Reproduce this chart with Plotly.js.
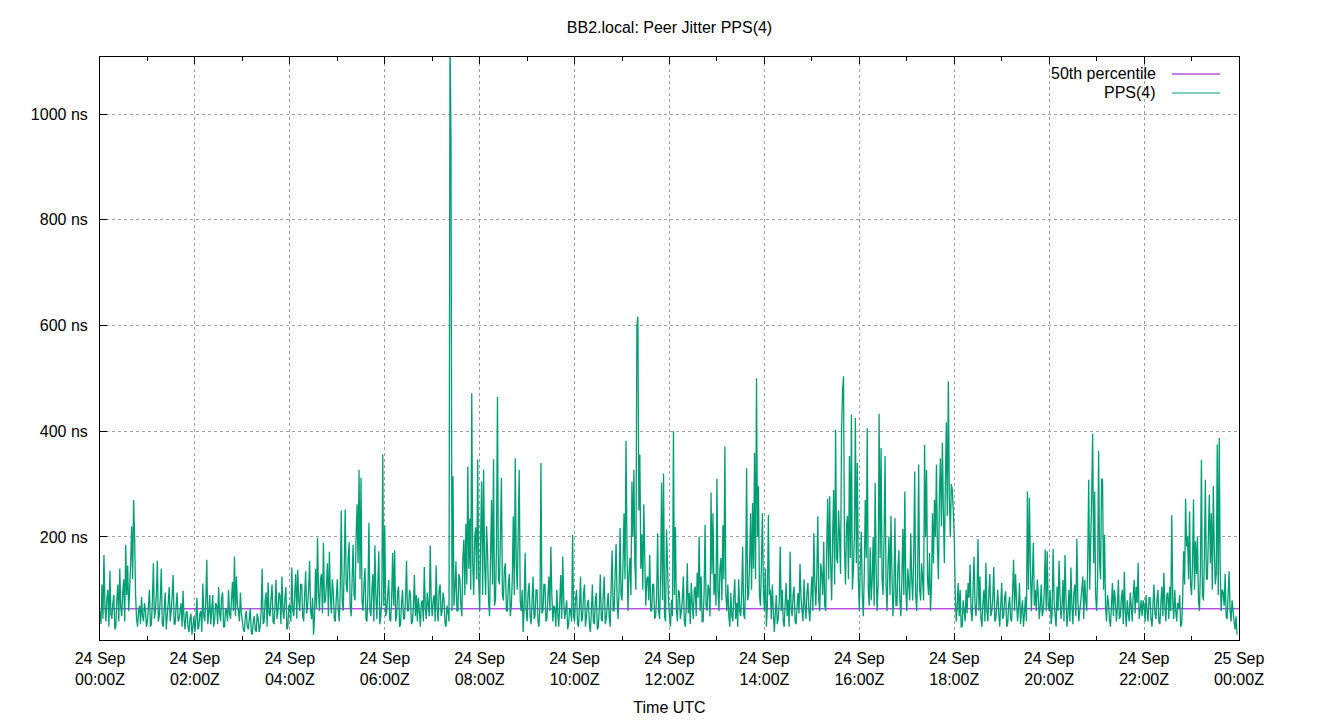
<!DOCTYPE html>
<html><head><meta charset="utf-8">
<script src="https://cdn.plot.ly/plotly-3.0.1.min.js"></script>
<style>html,body{margin:0;padding:0;background:#fff}</style>
</head><body><div id="chart" style="width:1340px;height:720px"></div>
<script>
// Time base of the series (one sample every 1.25 minutes)
const startDate = '2024-09-24T00:00:00Z';
const sampleMinutes = 1.25;

// PPS(4) peer jitter in ns, one array per UTC hour (48 samples each)
const h00 = [60,35, 110,45, 166,70, 40,85, 100,30, 136,55, 45,75, 90,25, 30,80, 110,40, 140,65, 50,95, 120,40, 185,90, 146,60, 100,150, 220,120, 270,200, 90,45, 30,60, 70,35, 87,50, 40,75, 60,30];
const h01 = [40,70, 100,30, 35,80, 150,45, 60,90, 155,40, 50,85, 140,35, 30,65, 95,25, 50,75, 105,40, 60,90, 128,35, 35,70, 95,40, 45,60, 75,30, 98,45, 25,55, 60,30, 20,45, 55,15, 30,50];
const h02 = [20,45, 85,25, 30,55, 60,20, 112,50, 40,80, 157,35, 55,90, 35,60, 90,30, 45,75, 70,35, 105,55, 40,85, 95,30, 30,65, 60,40, 100,55, 45,80, 115,60, 163,50, 125,70, 60,40, 95,55];
const h03 = [40,25, 20,50, 60,30, 25,45, 65,20, 15,40, 50,25, 20,55, 45,20, 30,60, 140,35, 40,80, 95,30, 114,55, 50,85, 110,40, 35,70, 119,45, 60,95, 90,35, 125,60, 45,85, 105,25, 30,70];
const h04 = [70,40, 142,60, 50,95, 130,45, 138,80, 60,110, 110,50, 40,90, 135,55, 70,100, 155,60, 45,85, 15,50, 140,65, 199,95, 60,120, 130,55, 189,75, 80,110, 150,50, 172,90, 55,120, 95,45, 40,85];
const h05 = [120,60, 40,100, 250,80, 60,140, 252,110, 95,160, 190,70, 50,120, 185,90, 80,200, 262,150, 327,120, 312,80, 60,110, 141,45, 40,95, 227,60, 50,100, 130,40, 184,90, 45,110, 173,35, 50,80, 356,70];
const h06 = [221,50, 60,90, 119,45, 40,85, 170,70, 175,40, 50,95, 106,30, 35,75, 100,45, 45,80, 155,60, 60,100, 90,35, 40,70, 128,50, 90,40, 85,60, 30,75, 80,40, 143,65, 45,95, 70,50, 184,80];
const h07 = [50,80, 90,40, 146,65, 40,100, 110,50, 60,95, 80,35, 30,70, 60,40, 1150,950, 60,315, 70,100, 154,60, 60,130, 120,70, 50,160, 195,90, 225,110, 333,140, 235,100, 472,150, 90,200, 218,120];
const h08 = [346,120, 60,200, 305,90, 327,150, 90,220, 170,80, 50,160, 270,110, 347,70, 80,180, 465,120, 110,200, 312,90, 80,140, 150,60, 60,110, 130,50, 70,120, 239,90, 349,150, 100,210, 327,80, 60,100, 20,70];
const h09 = [170,60, 40,95, 113,50, 35,80, 125,45, 50,100, 100,40, 30,70, 340,55, 60,110, 110,40, 45,85, 125,60, 182,90, 40,70, 65,30, 100,55, 30,75, 128,45, 163,80, 45,60, 80,25, 35,65, 60,40];
const h10 = [204,50, 40,85, 100,35, 30,70, 125,40, 45,90, 110,30, 50,75, 81,35, 20,60, 110,40, 35,80, 94,25, 30,65, 129,45, 40,90, 125,35, 45,70, 94,50, 30,110, 175,60, 60,130, 187,80, 45,100];
const h11 = [217,90, 80,150, 245,120, 382,180, 60,130, 160,90, 305,200, 327,150, 100,598, 617,250, 356,140, 205,100, 262,160, 70,120, 125,80, 166,60, 60,110, 110,45, 50,90, 207,60, 45,120, 303,80, 320,50, 40,214];
const h12 = [144,80, 50,30, 81,50, 400,90, 219,60, 40,100, 94,45, 60,80, 125,40, 30,70, 150,55, 94,35, 113,75, 45,100, 106,50, 132,85, 201,60, 125,40, 40,95, 223,70, 60,110, 100,50, 284,130, 245,90];
const h13 = [130,70, 310,100, 60,140, 160,80, 222,120, 371,90, 60,110, 50,30, 94,50, 40,85, 120,45, 75,30, 120,60, 50,90, 182,55, 45,110, 330,80, 90,150, 245,100, 264,140, 359,120, 500,200, 296,90, 70,150];
const h14 = [245,100, 60,140, 30,70, 242,90, 100,45, 110,60, 20,55, 90,35, 45,80, 182,60, 100,40, 30,75, 113,50, 81,30, 172,65, 50,90, 106,40, 35,70, 94,55, 149,85, 60,40, 120,70, 45,95, 113,60];
const h15 = [40,90, 125,60, 207,110, 70,130, 239,80, 60,150, 130,90, 191,70, 60,180, 272,120, 277,150, 80,200, 289,110, 403,160, 150,250, 200,130, 397,476, 504,180, 110,220, 240,120, 353,160, 431,100, 138,200, 425,150];
const h16 = [340,120, 60,150, 210,90, 50,130, 270,160, 406,100, 70,180, 80,120, 200,70, 302,140, 60,110, 433,160, 368,120, 90,200, 353,110, 60,150, 200,90, 240,130, 50,100, 236,70, 70,140, 175,80, 50,120, 215,90];
const h17 = [286,100, 60,140, 110,80, 207,120, 80,160, 324,90, 60,130, 337,100, 80,150, 120,80, 374,200, 327,120, 90,170, 60,110, 245,150, 270,200, 337,180, 120,280, 349,220, 378,250, 150,300, 417,240, 494,280, 200,300];
const h18 = [290,250, 200,90, 40,70, 113,50, 100,30, 30,80, 60,40, 100,55, 113,85, 148,60, 40,100, 163,70, 50,90, 196,60, 125,45, 30,75, 100,40, 151,60, 40,95, 130,50, 60,85, 143,40, 45,70, 100,55];
const h19 = [30,70, 113,45, 50,85, 97,30, 35,70, 87,45, 40,95, 157,60, 130,80, 40,65, 113,35, 60,80, 30,55, 87,40, 286,100, 274,150, 60,120, 189,70, 100,60, 120,90, 45,70, 110,50, 60,95, 176,60];
const h20 = [173,70, 60,100, 35,55, 177,80, 50,30, 106,60, 155,90, 45,70, 119,40, 166,85, 30,55, 100,40, 142,70, 35,95, 110,50, 196,80, 40,60, 80,100, 125,45, 119,80, 60,157, 308,100, 190,277, 395,150];
const h21 = [286,90, 60,120, 363,150, 120,310, 308,100, 204,70, 40,90, 75,45, 30,70, 113,50, 100,80, 40,65, 119,45, 50,85, 100,35, 134,60, 30,80, 55,40, 95,70, 40,90, 119,55, 106,75, 151,45, 60,80];
const h22 = [50,80, 70,40, 90,60, 40,85, 85,45, 30,70, 110,55, 45,80, 100,40, 35,75, 106,50, 132,70, 40,90, 95,45, 106,60, 241,80, 45,100, 60,40, 75,65, 90,30, 35,80, 173,110, 272,182, 201,120];
const h23 = [248,110, 90,150, 271,100, 192,130, 201,80, 60,140, 346,90, 80,160, 308,120, 120,200, 280,150, 245,100, 296,180, 110,130, 375,90, 387,140, 60,100, 95,70, 130,50, 45,90, 135,60, 40,80, 60,40, 25,50];
const lastSample = [15];

// 50th percentile of the series (ns)
const median50 = 64;

// Axis ticks
const tickHours = [0, 2, 4, 6, 8, 10, 12, 14, 16, 18, 20, 22, 24];
const minorHours = [1, 3, 5, 7, 9, 11, 13, 15, 17, 19, 21, 23];
const tickLabels = ['24 Sep<br>00:00Z', '24 Sep<br>02:00Z', '24 Sep<br>04:00Z', '24 Sep<br>06:00Z',
  '24 Sep<br>08:00Z', '24 Sep<br>10:00Z', '24 Sep<br>12:00Z', '24 Sep<br>14:00Z', '24 Sep<br>16:00Z',
  '24 Sep<br>18:00Z', '24 Sep<br>20:00Z', '24 Sep<br>22:00Z', '25 Sep<br>00:00Z'];
const yTicks = [200, 400, 600, 800, 1000];
const yTickLabels = ['200 ns', '400 ns', '600 ns', '800 ns', '1000 ns'];

const t0 = Date.parse(startDate);
const fmt = ms => new Date(ms).toISOString().slice(0, 19).replace('T', ' ');
const hourStr = h => fmt(t0 + h * 3600000);

const pps = [h00,h01,h02,h03,h04,h05,h06,h07,h08,h09,h10,h11,h12,h13,h14,h15,h16,h17,h18,h19,h20,h21,h22,h23,lastSample].flat();
const times = pps.map((v, i) => fmt(t0 + i * sampleMinutes * 60000));

const FONT = '"Liberation Sans", Arial, sans-serif';
const GREEN = '#009e73', PURPLE = '#9400d3';

const traces = [
  { x: [hourStr(0), hourStr(24)], y: [median50, median50], type: 'scatter', mode: 'lines',
    line: {color: PURPLE, width: 1}, name: '50th percentile', hoverinfo: 'skip' },
  { x: times, y: pps, type: 'scatter', mode: 'lines',
    line: {color: GREEN, width: 1.3, simplify: false}, name: 'PPS(4)', hoverinfo: 'skip' }
];

// legend placed like the reference (text right-aligned, sample line to its right)
const pxX = px => (px - 100) / 1139;
const pxY = py => (640 - py) / 583;

const layout = {
  width: 1340, height: 720,
  margin: {l: 100, r: 101, t: 57, b: 80},
  paper_bgcolor: '#fff', plot_bgcolor: '#fff',
  showlegend: false,
  font: {family: FONT, size: 16, color: '#000'},
  title: {text: 'BB2.local: Peer Jitter PPS(4)', font: {family: FONT, size: 16, color: '#000'},
    x: 0.5, xref: 'paper', y: 1 - 27/720, yref: 'container', yanchor: 'middle'},
  xaxis: {
    type: 'date', range: [hourStr(0), hourStr(24)],
    tickmode: 'array', tickvals: tickHours.map(hourStr), ticktext: tickLabels,
    ticks: 'inside', ticklen: 7, tickwidth: 1, tickcolor: '#000',
    showline: true, linecolor: '#000', linewidth: 1, mirror: 'ticks',
    showgrid: true, gridcolor: '#a0a0a0', griddash: 'dot', gridwidth: 1,
    zeroline: false, ticklabelstandoff: 4,
    minor: {tickmode: 'array', tickvals: minorHours.map(hourStr), ticks: 'inside', ticklen: 4, tickcolor: '#000', showgrid: false},
    tickfont: {family: FONT, size: 16, color: '#000'},
    title: {text: 'Time UTC', font: {family: FONT, size: 16, color: '#000'}, standoff: 14},
    automargin: false
  },
  yaxis: {
    range: [5, 1108],
    tickmode: 'array', tickvals: yTicks, ticktext: yTickLabels,
    ticks: 'inside', ticklen: 7, tickwidth: 1, tickcolor: '#000',
    showline: true, linecolor: '#000', linewidth: 1, mirror: true,
    showgrid: true, gridcolor: '#a0a0a0', griddash: 'dot', gridwidth: 1,
    zeroline: false, ticklabelstandoff: 8,
    tickfont: {family: FONT, size: 16, color: '#000'},
    automargin: false
  },
  annotations: [
    {text: '50th percentile', xref: 'paper', yref: 'paper', x: pxX(1158), y: pxY(74), xanchor: 'right', yanchor: 'middle', showarrow: false, font: {family: FONT, size: 16, color: '#000'}},
    {text: 'PPS(4)', xref: 'paper', yref: 'paper', x: pxX(1158), y: pxY(93), xanchor: 'right', yanchor: 'middle', showarrow: false, font: {family: FONT, size: 16, color: '#000'}}
  ],
  shapes: [
    {type: 'line', xref: 'paper', yref: 'paper', x0: pxX(1172), x1: pxX(1220), y0: pxY(74), y1: pxY(74), line: {color: PURPLE, width: 1}},
    {type: 'line', xref: 'paper', yref: 'paper', x0: pxX(1172), x1: pxX(1220), y0: pxY(93), y1: pxY(93), line: {color: GREEN, width: 1}}
  ]
};

Plotly.newPlot('chart', traces, layout, {staticPlot: true, displayModeBar: false});
</script>
</body></html>
